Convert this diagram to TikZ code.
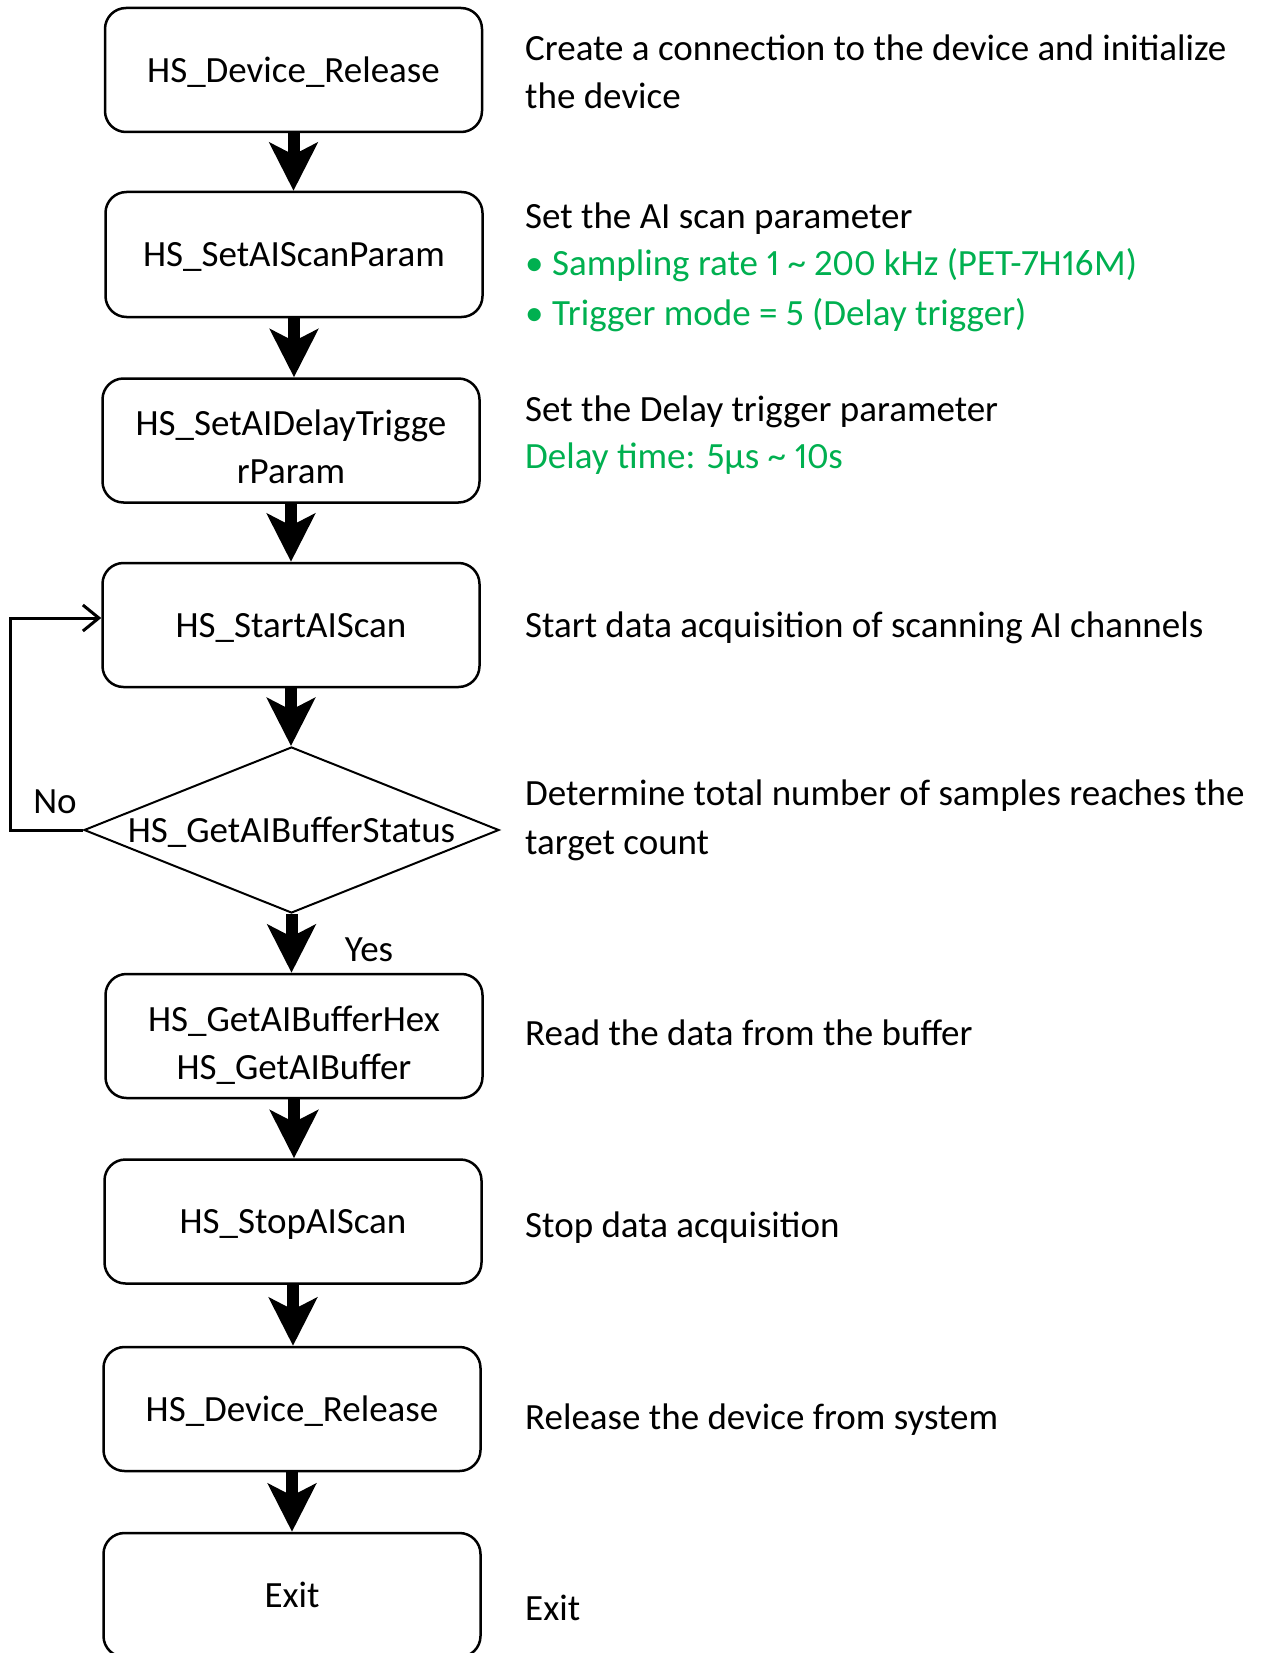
\documentclass[tikz,border=0pt]{standalone}
\usepackage{fontspec}
\setmainfont{Carlito}[Numbers=Proportional]
\usetikzlibrary{arrows.meta,shapes.geometric}
\definecolor{tgreen}{HTML}{00B050}
\begin{document}
\begin{tikzpicture}[x=1pt,y=-1pt,
  stepbox/.style={draw,line width=2.5pt,rounded corners=21pt,minimum width=377pt,minimum height=124pt,font=\fontsize{37}{48}\selectfont,align=center,inner sep=0pt,text depth=0pt},
  desc/.style={anchor=base west,font=\fontsize{37}{48}\selectfont,inner sep=0pt},
  gdesc/.style={desc,text=tgreen},
  bigarrow/.style={line width=12pt,-{Stealth[length=48pt,width=48pt,inset=12pt]}},
  fb/.style={line width=3pt,-{Straight Barb[length=16pt,width=26pt,line width=3pt]}},
  lbl/.style={font=\fontsize{37}{48}\selectfont,inner sep=0pt}
]
\useasboundingbox (0,0) rectangle (1264,1653);
\fill[white] (0,0) rectangle (1264,1653);

\node[stepbox] (b1) at (293.5,70) {HS\_Device\_Release};
\node[stepbox,minimum height=125pt] (b2) at (294,254.5) {HS\_SetAIScanParam};
\node[stepbox] (b3) at (291,440.5) {\rule{0pt}{38pt}HS\_SetAIDelayTrigge\\rParam};
\node[stepbox] (b4) at (291,625) {HS\_StartAIScan};
\node[draw,diamond,line width=2pt,minimum width=415pt,minimum height=166pt,inner sep=0pt,
  label={[lbl,text depth=0pt]center:HS\_GetAIBufferStatus}] (dia) at (291.5,830) {};
\node[stepbox] (b5) at (294,1036) {\rule{0pt}{38pt}HS\_GetAIBufferHex\\HS\_GetAIBuffer};
\node[stepbox] (b6) at (293,1221.5) {HS\_StopAIScan};
\node[stepbox] (b7) at (292,1409) {HS\_Device\_Release};
\node[stepbox] (b8) at (292,1595) {Exit};

\draw[bigarrow] (b1.south) -- (b1.south |- b2.north);
\draw[bigarrow] (b2.south) -- (b2.south |- b3.north);
\draw[bigarrow] (b3.south) -- (b3.south |- b4.north);
\draw[bigarrow] (b4.south) -- (b4.south |- dia.north);
\draw[bigarrow] (dia.south) -- (dia.south |- b5.north);
\draw[bigarrow] (b5.south) -- (b5.south |- b6.north);
\draw[bigarrow] (b6.south) -- (b6.south |- b7.north);
\draw[bigarrow] (b7.south) -- (b7.south |- b8.north);

\coordinate (c1) at (10,830);
\coordinate (c2) at (10,618);
\draw[fb] (dia.west) -- (c1) -- (c2) -- (c2 -| b4.west);
\node[lbl] (no) at (55,802) {No};
\node[lbl] (yes) at (369,950) {Yes};

\node[desc] (t1a) at (525,61) {Create a connection to the device and initialize};
\node[desc] (t1b) at (525,109) {the device};
\node[desc] (t2a) at (525,229) {Set the AI scan parameter};
\node[gdesc] (t2b) at (525,276) {\makebox[27pt][l]{•}Sampling rate 1 \textasciitilde\ 200 kHz (PET-7H16M)};
\node[gdesc] (t2c) at (525,325) {\makebox[27pt][l]{•}Trigger mode = 5 (Delay trigger)};
\node[desc] (t3a) at (525,421) {Set the Delay trigger parameter};
\node[gdesc] (t3b) at (525,468) {Delay time: 5µs \textasciitilde\ 10s};
\node[desc] (t4) at (525,637) {Start data acquisition of scanning AI channels};
\node[desc] (t5a) at (525,805) {Determine total number of samples reaches the};
\node[desc] (t5b) at (525,854) {target count};
\node[desc] (t6) at (525,1045) {Read the data from the buffer};
\node[desc] (t7) at (525,1237) {Stop data acquisition};
\node[desc] (t8) at (525,1429) {Release the device from system};
\node[desc] (t9) at (525,1620) {Exit};
\end{tikzpicture}
\end{document}
